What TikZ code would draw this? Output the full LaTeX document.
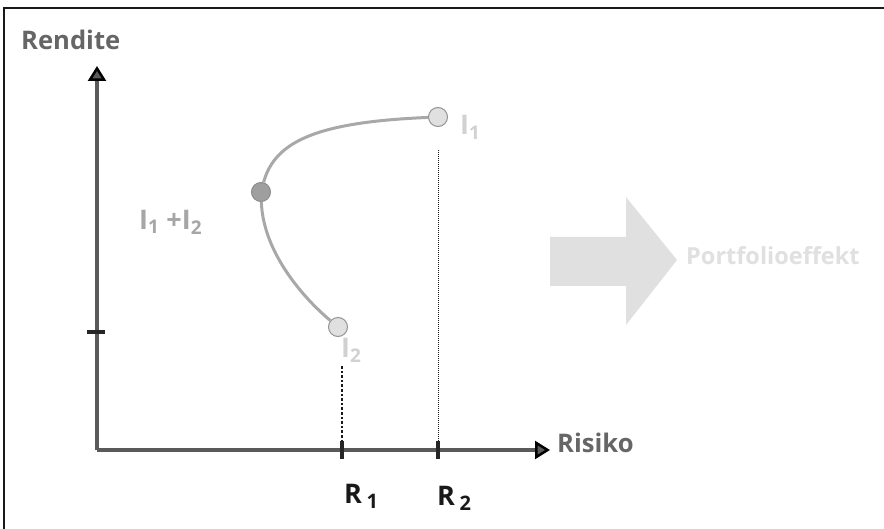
\documentclass[tikz,border=0pt]{standalone}
\usepackage{fontspec}
\setmainfont{Open Sans}
\usetikzlibrary{arrows.meta}
\definecolor{axisgray}{HTML}{5A5A5A}
\definecolor{labgray}{HTML}{666666}
\definecolor{pale}{HTML}{E0E0E0}
\definecolor{curvegray}{HTML}{A8A8A8}
\tikzset{
  ax/.style={line width=4pt, draw=axisgray},
  tickmark/.style={line width=3.5pt, draw=black!85},
  dot/.style={circle, minimum size=19pt, inner sep=0pt, line width=1pt},
  axtip/.style={-{Triangle[length=15pt,width=18pt,color=black,fill=axisgray,line width=2.5pt]}},
  lab/.style={font=\bfseries\fontsize{25.6pt}{28pt}\selectfont, text=labgray, inner sep=0pt},
  ilab/.style={font=\bfseries\fontsize{27pt}{29pt}\selectfont, inner sep=0pt},
  rlab/.style={font=\bfseries\fontsize{27pt}{29pt}\selectfont, text=black!90, inner sep=0pt},
}
\begin{document}
\begin{tikzpicture}[x=1pt,y=-1pt]
\useasboundingbox (0,0) rectangle (884,529);
\fill[white] (0,0) rectangle (884,529);
% frame (top and left only)
\draw[line width=2pt, black!90] (4,529) -- (4,8) -- (884,8);
% axes
\coordinate (O) at (97,450);
\coordinate (ytip) at (97,66);
\coordinate (xtip) at (550,450);
\draw[ax, axtip] (O) -- (ytip);
\draw[ax, axtip] (O) -- (xtip);
% ticks
\draw[tickmark] (87,332) -- (105,332);
\draw[tickmark] (342,441) -- (342,459);
\draw[tickmark] (438,441) -- (438,459);
% axis labels
\node[lab, anchor=west] (rendite) at (21,40) {Rendite};
\node[lab, anchor=west] (risiko) at (557,443) {Risiko};
% curve
\node[dot, fill=pale, draw=gray!85] (i1) at (438,117) {};
\node[dot, fill=gray!75, draw=gray!90] (i12) at (261,192) {};
\node[dot, fill=pale, draw=gray!85] (i2) at (338,327) {};
\draw[curvegray, line width=3pt] (i2) .. controls (300,295) and (263,250) .. (i12);
\draw[curvegray, line width=3pt] (i12) .. controls (275,140) and (320,122) .. (i1);
% dotted verticals
\draw[line width=2.6pt, dotted, black!90] (342,366) -- (342,441);
\draw[line width=1pt, densely dotted, black!90] (438,150) -- (438,441);
% point labels
\node[ilab, text=black!18, anchor=west] (li1) at (460,127) {I\textsubscript{1}};
\node[ilab, text=black!35, anchor=west] (li12) at (139,222) {I\textsubscript{1} +I\textsubscript{2}};
\node[ilab, text=black!18, anchor=west] (li2) at (341,350) {I\textsubscript{2}};
% R labels
\node[rlab, anchor=west] (r1) at (344,496) {R\,\raisebox{-0.35ex}{\fontsize{20pt}{22pt}\selectfont 1}};
\node[rlab, anchor=west] (r2) at (437,498) {R\,\raisebox{-0.35ex}{\fontsize{20pt}{22pt}\selectfont 2}};
% big arrow
\fill[pale] (550,237) -- (626,237) -- (626,197) -- (677,260) -- (626,325) -- (626,286) -- (550,286) -- cycle;
\node[font=\bfseries\fontsize{23.5pt}{26pt}\selectfont, text=pale, anchor=west, inner sep=0pt] (pe) at (686,256) {Portfolioeffekt};
\end{tikzpicture}
\end{document}
